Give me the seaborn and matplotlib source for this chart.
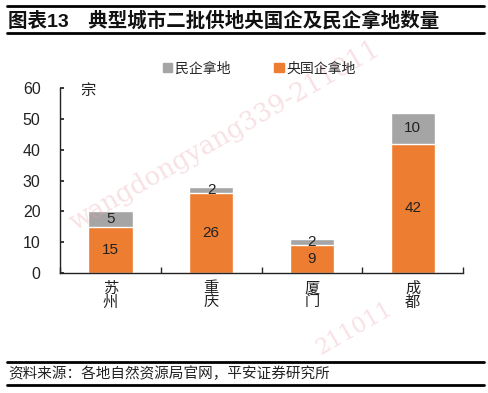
import pandas as pd
import numpy as np
import seaborn as sns
import matplotlib.pyplot as plt
from matplotlib.lines import Line2D
from matplotlib.patches import Patch

# данные
cities = ['苏\n州', '重\n庆', '厦\n门', '成\n都']
soe_counts = [15, 26, 9, 42]      # 央国企拿地
private_counts = [5, 2, 2, 10]    # 民企拿地
y_ticks = [0, 10, 20, 30, 40, 50, 60]

orange = '#ED7D31'
grey = '#A5A5A5'

sns.set_theme(style='white')
plt.rcParams['font.family'] = ['Liberation Sans', 'Noto Sans CJK SC', 'DejaVu Sans']

df = pd.DataFrame({'city': cities, 'soe': soe_counts, 'private': private_counts})
df['total'] = df['soe'] + df['private']

fig = plt.figure(figsize=(4.89, 3.93), dpi=100)
ax = fig.add_axes([0.1227, 0.3053, 0.8243, 0.4707])

# водяной знак (под столбцами)
fig.text(0.46, 0.655, 'wangdongyang339-211011', fontsize=18.5, color='#E9A3AC', alpha=0.32,
         rotation=30, ha='center', va='center', family='DejaVu Serif', zorder=0)
fig.text(0.725, 0.165, '211011', fontsize=16, color='#E9A3AC', alpha=0.32,
         rotation=30, ha='center', va='center', family='DejaVu Serif', zorder=0)
ax.patch.set_alpha(0)

# стек: сначала сумма (серый), потом госкомпании (оранжевый)
sns.barplot(data=df, x='city', y='total', color=grey, width=0.44, saturation=1, ax=ax)
sns.barplot(data=df, x='city', y='soe', color=orange, width=0.44, saturation=1, ax=ax)

for i, row in df.iterrows():
    ax.text(i, row['soe'] / 2, str(row['soe']), ha='center', va='center', fontsize=11, color='#222222')
    ax.text(i, row['soe'] + row['private'] / 2, str(row['private']), ha='center', va='center',
            fontsize=11, color='#222222')

ax.set_ylim(0, 60)
ax.set_xlim(-0.5, 3.5)
ax.set_yticks(y_ticks)
ax.set_xlabel('')
ax.set_ylabel('')
ax.tick_params(axis='y', labelsize=11.5, length=3, direction='in', left=True, pad=14, colors='#222222')
ax.tick_params(axis='x', labelsize=11, length=0, pad=6, colors='#222222')
for lab in ax.get_xticklabels():
    lab.set_linespacing(1.0)
ax.set_xticks([-0.5, 0.5, 1.5, 2.5, 3.5], minor=True)
ax.tick_params(axis='x', which='minor', length=4, direction='in', bottom=True)
for s in ['top', 'right']:
    ax.spines[s].set_visible(False)
for s in ['left', 'bottom']:
    ax.spines[s].set_color('#222222')
    ax.spines[s].set_linewidth(1.0)

ax.text(0.05, 59, '宗', transform=ax.get_yaxis_transform(), fontsize=11, va='center', color='#222222')

# легенда
handles = [Patch(color=grey, label='民企拿地'), Patch(color=orange, label='央国企拿地')]
fig.legend(handles=handles, loc='center', bbox_to_anchor=(0.53, 0.826), ncol=2, frameon=False,
           fontsize=10, handlelength=0.7, handleheight=0.7, handletextpad=0.15, columnspacing=3.2)

# заголовок и рамки
fig.text(0.016, 0.948, '图表13　典型城市二批供地央国企及民企拿地数量', fontsize=14,
         fontweight='bold', va='center', color='#111111')
for y in [0.985, 0.916, 0.079, 0.020]:
    fig.add_artist(Line2D([0.014, 0.99], [y, y], transform=fig.transFigure, color='black', lw=2))
fig.text(0.016, 0.050, '资料来源：各地自然资源局官网，平安证券研究所', fontsize=10.5,
         va='center', color='#222222', style='italic')

fig.savefig('out.png', dpi=100)
